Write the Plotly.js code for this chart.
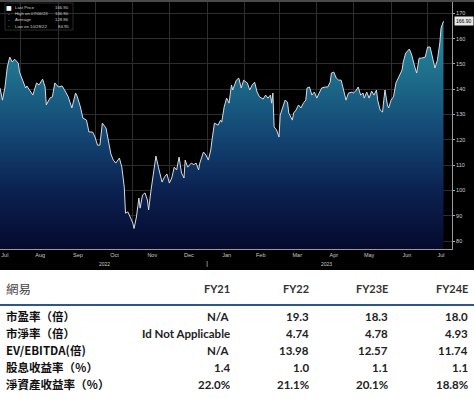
<!DOCTYPE html>
<html><head><meta charset="utf-8">
<script src="https://cdn.plot.ly/plotly-3.0.1.min.js"></script>
<style>html,body{margin:0;padding:0;background:#fff}#c{width:474px;height:399px}</style>
</head><body><div id="c"></div>
<script>
const dates = ['2022-07-15','2022-07-17','2022-07-19','2022-07-21','2022-07-23','2022-07-25','2022-07-27','2022-07-30','2022-07-31',
'2022-08-03','2022-08-05','2022-08-06','2022-08-09','2022-08-11','2022-08-14','2022-08-16','2022-08-19','2022-08-21','2022-08-22','2022-08-25','2022-08-27','2022-08-29',
'2022-09-01','2022-09-04','2022-09-06','2022-09-09','2022-09-12','2022-09-15','2022-09-16','2022-09-19','2022-09-21','2022-09-24','2022-09-26','2022-09-29',
'2022-10-01','2022-10-03','2022-10-05','2022-10-07','2022-10-10','2022-10-12','2022-10-14','2022-10-16','2022-10-18','2022-10-21','2022-10-23','2022-10-25','2022-10-26','2022-10-28','2022-10-30',
'2022-11-01','2022-11-02','2022-11-04','2022-11-06','2022-11-07','2022-11-09','2022-11-11','2022-11-13','2022-11-14','2022-11-16','2022-11-18','2022-11-20','2022-11-22','2022-11-23','2022-11-25','2022-11-27','2022-11-29',
'2022-12-01','2022-12-03','2022-12-05','2022-12-07','2022-12-09','2022-12-11','2022-12-13','2022-12-14','2022-12-16','2022-12-19','2022-12-21','2022-12-23','2022-12-25','2022-12-26','2022-12-29','2022-12-31',
'2023-01-02','2023-01-04','2023-01-05','2023-01-07','2023-01-10','2023-01-12','2023-01-13','2023-01-15','2023-01-17','2023-01-19','2023-01-21','2023-01-22','2023-01-25','2023-01-27','2023-01-29','2023-01-31',
'2023-02-02','2023-02-03','2023-02-05','2023-02-07','2023-02-09','2023-02-11','2023-02-13','2023-02-16','2023-02-18','2023-02-20','2023-02-22','2023-02-23','2023-02-24','2023-02-25','2023-02-27',
'2023-03-01','2023-03-02','2023-03-04','2023-03-06','2023-03-08','2023-03-09','2023-03-12','2023-03-13','2023-03-15','2023-03-17','2023-03-19','2023-03-21','2023-03-23','2023-03-24','2023-03-26','2023-03-28','2023-03-30',
'2023-04-01','2023-04-03','2023-04-05','2023-04-08','2023-04-10','2023-04-12','2023-04-13','2023-04-15','2023-04-17','2023-04-19','2023-04-21','2023-04-23','2023-04-25','2023-04-27','2023-04-30',
'2023-05-01','2023-05-03','2023-05-05','2023-05-07','2023-05-09','2023-05-10','2023-05-12','2023-05-14','2023-05-16','2023-05-18','2023-05-20','2023-05-21','2023-05-23','2023-05-25','2023-05-26','2023-05-27','2023-05-29','2023-05-30',
'2023-06-01','2023-06-03','2023-06-05','2023-06-07','2023-06-10','2023-06-11','2023-06-13','2023-06-16','2023-06-18','2023-06-20','2023-06-22','2023-06-24','2023-06-26','2023-06-29',
'2023-07-01','2023-07-03','2023-07-05','2023-07-07','2023-07-09','2023-07-11','2023-07-12','2023-07-14'];
const prices = [140.5,135.7,140.5,148.8,152.7,150.8,151.9,150.3,146.8,
142.8,140.5,141.3,139.3,137.7,142.5,141.7,144.0,140.9,133.8,136.5,137.0,142.5,
140.9,141.3,139.7,137.0,132.6,138.5,137.7,133.0,128.6,127.8,123.1,123.1,
121.1,117.9,117.9,126.6,124.7,118.7,114.4,112.0,110.8,112.8,109.2,101.3,91.0,91.5,89.5,
87.1,84.95,89.5,97.0,93.0,98.2,99.0,96.2,92.3,100.2,108.1,113.6,109.2,106.9,103.3,105.3,106.5,
102.9,104.9,109.2,108.1,113.2,106.9,104.9,112.0,109.2,110.8,110.2,110.8,108.1,110.8,115.2,114.0,
112.0,116.0,119.9,126.6,125.8,127.8,127.0,133.0,136.5,134.5,141.7,139.7,143.6,144.4,140.5,143.6,
142.8,142.5,139.7,141.7,142.8,138.9,137.0,136.1,137.7,136.5,137.7,134.5,138.5,125.1,123.9,
121.1,129.8,133.0,135.7,134.9,130.6,127.8,130.6,131.8,133.8,132.6,134.5,135.7,140.5,140.9,137.7,138.9,
136.5,138.5,140.5,140.9,140.9,142.8,146.4,146.8,144.4,143.6,143.6,139.7,135.7,138.5,138.9,
138.5,139.3,140.9,137.7,138.5,136.5,138.9,136.5,139.3,137.7,139.7,135.7,131.8,131.0,135.7,139.7,133.8,132.6,
135.7,137.0,142.5,144.8,147.6,150.8,154.3,155.9,153.5,149.6,146.4,152.3,152.3,152.7,
156.7,156.7,152.7,148.4,151.5,158.3,164.2,166.9];

const monthTickVals = ['2022-07-19','2022-08-17','2022-09-17','2022-10-17','2022-11-17','2022-12-17','2023-01-17','2023-02-14','2023-03-16','2023-04-15','2023-05-14','2023-06-14','2023-07-12'];
const monthTickText = ['Jul','Aug','Sep','Oct','Nov','Dec','Jan','Feb','Mar','Apr','May','Jun','Jul'];
const monthStarts = ['2022-08-01','2022-09-01','2022-10-01','2022-11-01','2022-12-01','2023-01-01','2023-02-01','2023-03-01','2023-04-01','2023-05-01','2023-06-01','2023-07-01'];
const yearLabels = ['2022','2023'];
const yearLabelPos = ['2022-10-09','2023-04-09'];

const legendLabels = ['Last Price','High on 07/06/23','Average','Low on 10/28/22'];
const legendValues = ['166.90','166.90','128.86','84.95'];
const lastPrice = '166.90';

const tableHeader = ['網易','FY21','FY22','FY23E','FY24E'];
const rowLabels = ['市盈率（倍）','市淨率（倍）','EV/EBITDA(倍)','股息收益率（％）','淨資產收益率（％）'];
const fy21 = ['N/A','Id Not Applicable','N/A','1.4','22.0%'];
const fy22 = ['19.3','4.74','13.98','1.0','21.1%'];
const fy23e = ['18.3','4.78','12.57','1.1','20.1%'];
const fy24e = ['18.0','4.93','11.74','1.1','18.8%'];

const H = 399, W = 474;
const b = s => '<b>' + s + '</b>';

const traces = [
  {
    type: 'scatter', mode: 'lines', x: dates, y: prices,
    line: {color: '#d3dde6', width: 1},
    fill: 'tozeroy',
    fillgradient: {type: 'vertical', start: 77, stop: 168,
      colorscale: [[0, '#050a2e'], [0.25, '#0b2150'], [0.5, '#134774'], [0.78, '#1f728e'], [1, '#2a8a9e']]},
    hoverinfo: 'skip', showlegend: false
  }
];

const annotations = [];
const colRight = [232, 311, 390, 470];
const headerY = 288;
const rowY = [316, 333, 350, 367, 384];
const valueCols = [fy21, fy22, fy23e, fy24e];
annotations.push({xref: 'paper', yref: 'paper', x: 4 / W, y: 1 - headerY / H, xanchor: 'left', yanchor: 'middle', text: tableHeader[0], showarrow: false, font: {family: 'Noto Sans CJK TC', size: 12.5, color: '#444'}});
for (let c = 1; c < tableHeader.length; c++) {
  annotations.push({xref: 'paper', yref: 'paper', x: colRight[c - 1] / W, y: 1 - headerY / H, xanchor: 'right', yanchor: 'middle', text: b(tableHeader[c]), showarrow: false, font: {family: 'Lato', size: 11, color: '#333'}});
}
rowLabels.forEach((lab, r) => {
  annotations.push({xref: 'paper', yref: 'paper', x: 4 / W, y: 1 - rowY[r] / H, xanchor: 'left', yanchor: 'middle', text: b(lab), showarrow: false, font: {family: 'Noto Sans CJK TC', size: 11.5, color: '#111'}});
  valueCols.forEach((col, c) => {
    annotations.push({xref: 'paper', yref: 'paper', x: colRight[c] / W, y: 1 - rowY[r] / H, xanchor: 'right', yanchor: 'middle', text: b(col[r]), showarrow: false, font: {family: 'Lato', size: 11.5, color: '#222'}});
  });
});
legendLabels.forEach((t, i) => {
  const yy = 1 - (7.5 + i * 6.2) / H;
  annotations.push({xref: 'paper', yref: 'paper', x: 13 / W, y: yy, xanchor: 'left', yanchor: 'middle', text: t, showarrow: false, font: {size: 4.3, color: '#cfcfcf', family: 'Arial'}});
  annotations.push({xref: 'paper', yref: 'paper', x: 71 / W, y: yy, xanchor: 'right', yanchor: 'middle', text: legendValues[i], showarrow: false, font: {size: 4.3, color: '#cfcfcf', family: 'Arial'}});
  annotations.push({xref: 'paper', yref: 'paper', x: 9 / W, y: yy, xanchor: 'center', yanchor: 'middle', text: i === 0 ? '■' : '-', showarrow: false, font: {size: i === 0 ? 6 : 5, color: i === 0 ? '#ffffff' : '#aaaaaa', family: 'DejaVu Sans'}});
});
yearLabels.forEach((t, i) => {
  annotations.push({xref: 'x', yref: 'paper', x: yearLabelPos[i], y: 1 - 264 / H, xanchor: 'center', yanchor: 'middle', text: t, showarrow: false, font: {size: 5, color: '#c8c8c8', family: 'Arial'}});
});
annotations.push({xref: 'paper', yref: 'y', x: 454 / W, y: 166.9, xanchor: 'left', yanchor: 'middle', text: lastPrice, showarrow: false, bgcolor: '#e6e6e6', borderpad: 1, font: {size: 5, color: '#000', family: 'Arial'}});

const shapes = [
  {type: 'rect', xref: 'paper', yref: 'paper', x0: 0, x1: 1, y0: 1 - 270 / H, y1: 1, fillcolor: '#000', line: {width: 0}, layer: 'below'},
  {type: 'rect', xref: 'paper', yref: 'paper', x0: 0, x1: 1, y0: 1 - 2 / H, y1: 1, fillcolor: '#4a4a4a', line: {width: 0}},
  {type: 'line', xref: 'paper', yref: 'paper', x0: 0, x1: 1, y0: 1 - 305 / H, y1: 1 - 305 / H, line: {color: '#2f5496', width: 2}},
  {type: 'rect', xref: 'paper', yref: 'paper', x0: 5 / W, x1: 73 / W, y0: 1 - 30 / H, y1: 1 - 3 / H, line: {color: '#2a2a2a', width: 1}},
  {type: 'line', xref: 'x', yref: 'paper', x0: '2023-01-01', x1: '2023-01-01', y0: 1 - 267 / H, y1: 1 - 261 / H, line: {color: '#888', width: 1}}
];

const layout = {
  width: W, height: H, autosize: false,
  margin: {l: 0, r: 0, t: 0, b: 0, pad: 0},
  paper_bgcolor: '#ffffff', plot_bgcolor: '#000000',
  showlegend: false,
  xaxis: {
    type: 'date', domain: [0, 452 / W], range: ['2022-07-15', '2023-07-21'],
    tickmode: 'array', tickvals: monthTickVals, ticktext: monthTickText,
    showgrid: false, zeroline: false, ticks: '',
    tickfont: {size: 5.5, color: '#c8c8c8', family: 'Arial'},
    showline: true, linecolor: '#9c9c9c', linewidth: 1,
    minor: {tickmode: 'array', tickvals: monthStarts, showgrid: true, gridcolor: '#2e2e2e', gridwidth: 1, ticks: ''},
    fixedrange: true
  },
  yaxis: {
    side: 'right', domain: [1 - 249 / H, 1 - 2 / H], range: [76.84, 174.5],
    tick0: 0, dtick: 10, showgrid: true, gridcolor: '#2e2e2e', gridwidth: 1, zeroline: false,
    ticks: 'outside', ticklen: 2, tickcolor: '#aaa',
    tickfont: {size: 5.5, color: '#cfcfcf', family: 'Arial'},
    showline: true, linecolor: '#9c9c9c', linewidth: 1, fixedrange: true
  },
  annotations: annotations,
  shapes: shapes
};

Plotly.newPlot('c', traces, layout, {staticPlot: true, displayModeBar: false});
</script></body></html>
